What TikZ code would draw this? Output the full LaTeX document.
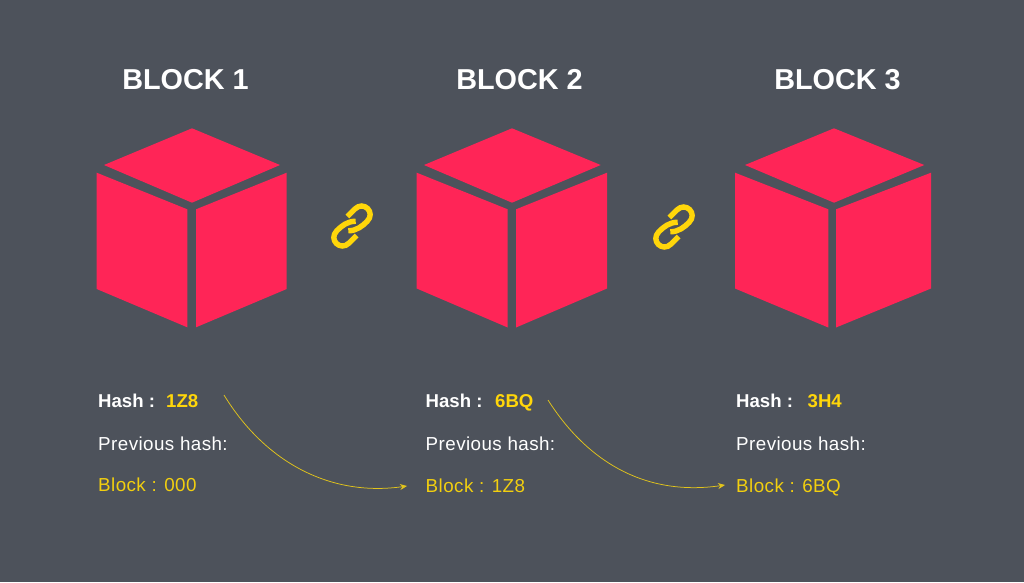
\documentclass[tikz,border=0pt]{standalone}
\usepackage{fontspec}
\setmainfont{Liberation Sans}
\newfontfamily\spaced[LetterSpace=2.3]{Liberation Sans}
\usetikzlibrary{arrows.meta}
\definecolor{bgc}{HTML}{4D525B}
\definecolor{redc}{HTML}{FF2557}
\definecolor{yelc}{HTML}{FFD60A}
\definecolor{txtyel}{HTML}{F2CF0F}
\definecolor{linec}{HTML}{E2C41C}
\tikzset{
  face/.style={fill=redc},
  title/.style={anchor=base,text=white,font=\fontsize{28.8}{30}\selectfont\bfseries,inner sep=0pt},
  hashlabel/.style={anchor=base west,text=white,font=\fontsize{18.6}{20}\selectfont\bfseries,inner sep=0pt},
  hashvalue/.style={anchor=base west,text=yelc,font=\fontsize{18.6}{20}\selectfont\bfseries,inner sep=0pt},
  prevlabel/.style={anchor=base west,text=white,font=\fontsize{18.8}{20}\selectfont\spaced,inner sep=0pt},
  blocklabel/.style={anchor=base west,text=txtyel,font=\fontsize{18.8}{20}\selectfont\spaced,inner sep=0pt},
  linkarrow/.style={draw=linec,line width=0.75pt,-{Stealth[length=7pt,width=6pt,fill=linec]}},
  linkpart/.style={draw=yelc,line width=5.4pt,line cap=butt}
}
\newcommand{\halfchain}{%
  \draw[linkpart] (6,-0.8) .. controls (0,-6.6) and (-7,-7.4) .. (-14,-7.4)
     .. controls (-26.5,-7.4) and (-26.5,10) .. (-14,10) -- (-3.5,10);}
\newcommand{\chainlink}[2]{%
  \begin{scope}[shift={(#1,#2)},rotate=45]
    \halfchain
    \begin{scope}[rotate=180]\halfchain\end{scope}
  \end{scope}}
\begin{document}
\begin{tikzpicture}[x=1pt,y=-1pt]
\useasboundingbox (0,0) rectangle (1024,582);
\fill[bgc] (0,0) rectangle (1024,582);
% cube 1
\fill[face] (192,128.3) -- (280,165) -- (192,202.7) -- (104,165) -- cycle;
\fill[face] (96.7,172.7) -- (187.3,209.3) -- (187.3,327.3) -- (96.7,289) -- cycle;
\fill[face] (196,209.3) -- (286.7,172.7) -- (286.7,289) -- (196,327.3) -- cycle;
% cube 2
\fill[face] (512,128.3) -- (600.7,165) -- (512,202.7) -- (424,165) -- cycle;
\fill[face] (416.7,172.7) -- (507.7,209.3) -- (507.7,327.5) -- (416.7,288.5) -- cycle;
\fill[face] (516,209.3) -- (607,172.7) -- (607,288.5) -- (516,327.5) -- cycle;
% cube 3
\fill[face] (834,128.3) -- (924.3,165) -- (834,202.7) -- (745,165) -- cycle;
\fill[face] (735,172.7) -- (828.3,209.3) -- (828.3,327.5) -- (735,288.5) -- cycle;
\fill[face] (836,209.3) -- (931,172.7) -- (931,288.5) -- (836,327.5) -- cycle;
% chain links
\chainlink{352}{226}
\chainlink{674}{227}
% titles
\node[title] (t1) at (185.5,89.5) {BLOCK 1};
\node[title] (t2) at (519.5,89.5) {BLOCK 2};
\node[title] (t3) at (837.5,89.5) {BLOCK 3};
% block 1 text
\node[hashlabel] (h1) at (98,407.5) {Hash :};
\node[hashvalue] (v1) at (166,407.5) {1Z8};
\node[prevlabel] (p1) at (98,450.5) {Previous hash:};
\node[blocklabel] (b1) at (98,491.5) {Block : 000};
% block 2 text
\node[hashlabel] (h2) at (425.5,407.5) {Hash :};
\node[hashvalue] (v2) at (495,407.5) {6BQ};
\node[prevlabel] (p2) at (425.5,450.5) {Previous hash:};
\node[blocklabel] (b2) at (425.5,492) {Block : 1Z8};
% block 3 text
\node[hashlabel] (h3) at (736,407.5) {Hash :};
\node[hashvalue] (v3) at (807.5,407.5) {3H4};
\node[prevlabel] (p3) at (736,450.5) {Previous hash:};
\node[blocklabel] (b3) at (736,492) {Block : 6BQ};
% connectors
\coordinate (s1) at (224,395);
\coordinate (e1) at (407,486);
\coordinate (s2) at (548,400);
\coordinate (e2) at (725,485);
\draw[linkarrow] (s1) .. controls (265,462) and (330,497) .. (e1);
\draw[linkarrow] (s2) .. controls (590,466) and (650,496) .. (e2);
\end{tikzpicture}
\end{document}
